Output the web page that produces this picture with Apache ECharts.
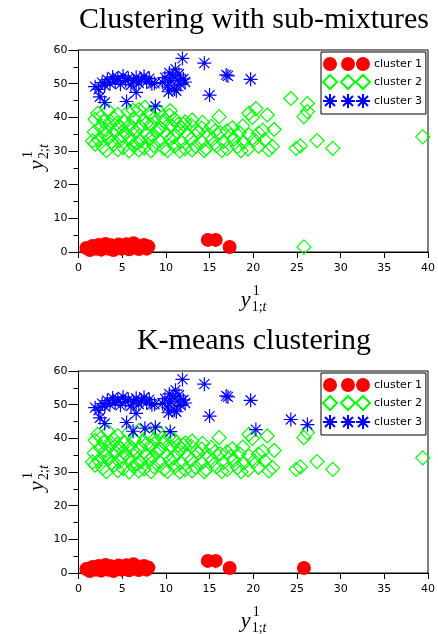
<!DOCTYPE html>
<html>
<head>
<meta charset="utf-8">
<script src="https://cdn.jsdelivr.net/npm/echarts@6/dist/echarts.min.js"></script>
<style>
  html, body { margin: 0; padding: 0; background: #fff; }
  #main { width: 438px; height: 634px; }
</style>
</head>
<body>
<div id="main"></div>
<script>
// tick labels
const xTicks = [0, 5, 10, 15, 20, 25, 30, 35, 40];
const yTicks = [0, 10, 20, 30, 40, 50, 60];
const seriesNames = ["cluster 1", "cluster 2", "cluster 3"];
const titles = ["Clustering with sub-mixtures", "K-means clustering"];

// red circles, same in both plots
const c1 = [[0.9,1.2],[1.3,0.6],[1.6,1.8],[2.0,1.0],[2.3,2.1],[2.6,0.7],[2.9,1.6],[3.1,2.4],[3.4,1.0],[3.7,2.0],
  [4.0,0.6],[4.3,1.5],[4.6,2.2],[4.9,1.0],[5.2,1.8],[5.5,2.3],[5.8,0.8],[6.1,1.5],[6.3,2.6],[6.6,1.9],
  [6.9,0.9],[7.2,1.6],[7.5,2.1],[7.8,1.0],[8.0,1.6],[14.8,3.6],[15.7,3.6],[17.3,1.5]];

// green diamonds, same in both plots
const c2 = [[2.2,41.2],[3.4,42.0],[4.5,40.8],[5.7,41.6],[6.9,42.3],[8.1,41.0],[9.2,41.8],[10.4,40.6],[16.1,40.2],[19.5,41.2],[19.9,40.0],[21.6,40.7],
  [1.9,39.4],[2.9,38.8],[4.0,39.9],[5.2,38.9],[6.3,39.6],[7.5,39.0],[8.7,39.8],[9.8,38.7],[11.0,39.5],[12.2,38.6],[13.0,39.2],
  [2.5,37.2],[3.6,37.9],[4.8,36.9],[5.9,37.7],[7.1,37.1],[8.3,37.8],[9.4,36.8],[10.6,37.5],[11.8,36.9],[12.9,37.6],[14.1,36.8],[15.2,37.3],[17.6,36.9],[18.8,37.4],
  [1.8,35.6],[3.0,35.0],[4.2,35.9],[5.4,35.2],[6.5,35.8],[7.7,35.1],[8.9,35.7],[10.1,35.0],[11.3,35.6],[12.5,34.9],[13.7,35.5],[14.9,34.8],[16.2,35.4],[17.4,34.6],[18.4,35.5],[19.5,34.8],[21.1,36.2],[22.4,36.4],[20.6,35.3],
  [2.3,33.4],[3.5,34.0],[4.7,33.1],[5.9,33.8],[7.1,33.0],[8.2,33.7],[9.3,32.9],[10.5,33.6],[11.7,32.8],[12.9,33.5],[14.1,32.7],[15.3,33.4],[16.6,32.8],[17.8,33.5],[18.9,32.6],[20.1,33.3],[21.3,33.3],
  [1.9,32.0],[2.8,31.2],[4.0,31.9],[5.1,31.0],[6.3,31.7],[7.5,30.9],[8.6,31.6],[9.8,30.8],[11.0,31.5],[12.2,30.7],[13.4,31.4],[14.6,30.8],[15.8,31.5],[17.0,30.7],[18.2,31.3],[19.4,30.6],[20.6,31.4],[22.2,31.3],[21.8,30.3],
  [3.2,30.1],[4.5,30.4],[5.8,30.0],[6.9,30.3],[8.3,30.1],[10.2,30.2],[11.6,30.0],[13.0,30.3],[14.4,30.1],[16.4,30.2],[18.6,30.1],
  [2.6,40.2],[3.1,36.3],[4.4,38.2],[5.0,34.6],[6.2,36.5],[7.8,38.3],[6.7,32.4],[8.5,34.5],[9.6,40.1],[10.9,34.2],[12.0,38.0],[13.5,36.2],[15.6,35.9],[1.6,33.0],[3.8,32.6],[9.1,36.4],[11.4,37.9],[14.2,38.5],[17.0,36.0],
  [25.8,40.2],[26.2,41.7],[24.9,30.8],[25.4,31.5],[27.3,33.1],[29.1,30.8],[39.4,34.2]];

// blue stars, same in both plots
const c3 = [[1.9,49.1],[2.3,48.3],[2.7,50.3],[3.0,49.5],[3.3,51.2],[3.6,50.0],[3.9,52.0],[4.2,50.7],[4.5,51.6],[4.8,49.8],
  [5.1,52.3],[5.4,50.9],[5.7,51.5],[6.0,49.6],[6.3,50.8],[6.6,51.9],[6.9,50.2],[7.2,51.2],[7.5,52.2],[7.8,50.6],
  [8.1,51.5],[8.4,50.0],[8.7,50.1],[9.6,50.4],[9.9,51.8],[10.2,49.3],[10.4,53.2],[10.6,50.8],[10.8,52.3],[11.0,48.4],
  [11.1,54.3],[11.3,51.0],[11.5,52.8],[11.7,49.8],[12.0,51.4],[10.3,47.6],[11.2,47.9],[12.2,50.5],
  [2.45,46.1],[3.0,44.4],[5.5,44.7],[6.6,47.4],[8.8,43.3],[11.9,57.5],[14.4,56.1],[15.0,46.6],[16.9,52.6],[17.1,52.3],[19.7,51.3]];

// points that are diamonds on top but stars in k-means
const swapStar = [[6.25,42.1],[7.6,43.0],[10.5,42.0],[20.3,42.6],[24.3,45.6],[26.2,44.1]];
// diamond on top, circle in k-means
const swapCircle = [[25.8,1.5]];

const top1 = [c1, c2.concat(swapStar, swapCircle), c3];
const top2 = [c1.concat(swapCircle), c2, c3.concat(swapStar)];

const tickFont = 'DejaVu Sans';
const starPath = 'path://M7,0L7,14M0,7L14,7M2,2L12,12M2,12L12,2';
const styles = [
  { symbol: 'circle', symbolSize: 14, itemStyle: { color: '#ff0000', opacity: 1 },
    icon: 'path://M0,7a7,7 0 1,0 14,0a7,7 0 1,0 -14,0M18,7a7,7 0 1,0 14,0a7,7 0 1,0 -14,0M33,7a7,7 0 1,0 14,0a7,7 0 1,0 -14,0' },
  { symbol: 'diamond', symbolSize: 14, itemStyle: { color: 'rgba(0,0,0,0)', borderColor: '#00ff00', borderWidth: 1.2, opacity: 1 },
    icon: 'path://M7,0L14,7L7,14L0,7ZM25,0L32,7L25,14L18,7ZM40,0L47,7L40,14L33,7Z' },
  { symbol: starPath, symbolSize: 14, itemStyle: { color: 'rgba(0,0,0,0)', borderColor: '#0000ff', borderWidth: 1.2, opacity: 1 },
    icon: 'path://M7,0L7,14M0,7L14,7M2,2L12,12M2,12L12,2M25,0L25,14M18,7L32,7M20,2L30,12M20,12L30,2M40,0L40,14M33,7L47,7M35,2L45,12M35,12L45,2' }
];

const gridTops = [50, 371];
const shift = gridTops[1] - gridTops[0];

function axisName(x, y, sub, vertical) {
  return {
    type: 'group', x: x, y: y, rotation: vertical ? Math.PI / 2 : 0,
    children: [
      { type: 'text', x: 0, y: -7.7, style: { text: 'y', font: 'italic 22px "Liberation Serif"', verticalAlign: 'middle', fill: '#000' } },
      { type: 'text', x: 12, y: -16.2, style: { text: '1', font: '14px "Liberation Serif"', verticalAlign: 'middle', fill: '#000' } },
      { type: 'text', x: 11, y: -0.2, style: {
          text: '{n|' + sub + '}{i|t}', verticalAlign: 'middle', fill: '#000',
          rich: {
            n: { fontFamily: 'Liberation Serif', fontSize: 14, fill: '#000' },
            i: { fontFamily: 'Liberation Serif', fontSize: 14, fontStyle: 'italic', fill: '#000' }
          }
        } }
    ]
  };
}

const grids = [], xAxes = [], yAxes = [], series = [], legends = [], titleList = [], graphics = [];
gridTops.forEach(function (t, g) {
  grids.push({ left: 78.5, top: t, width: 351, height: 202, show: true, borderColor: '#000', borderWidth: 1, backgroundColor: '#fff' });
  xAxes.push({
    gridIndex: g, type: 'value', min: xTicks[0], max: xTicks[xTicks.length - 1], interval: 5,
    axisLine: { onZero: false, lineStyle: { color: '#000', width: 1 } },
    axisTick: { inside: false, length: 6, lineStyle: { color: '#000' } },
    axisLabel: { margin: 11, fontFamily: tickFont, fontSize: 11, color: '#000' },
    splitLine: { show: false }
  });
  yAxes.push({
    gridIndex: g, type: 'value', min: yTicks[0], max: yTicks[yTicks.length - 1], interval: 10,
    axisLine: { onZero: false, lineStyle: { color: '#000', width: 1 } },
    axisTick: { inside: false, length: 10, lineStyle: { color: '#000' } },
    minorTick: { show: true, splitNumber: 2, length: 5, lineStyle: { color: '#000' } },
    axisLabel: { margin: 11, fontFamily: tickFont, fontSize: 11, color: '#000' },
    splitLine: { show: false }
  });
  const sets = g === 0 ? top1 : top2;
  seriesNames.forEach(function (name, k) {
    series.push({
      name: name, type: 'scatter', xAxisIndex: g, yAxisIndex: g,
      symbol: styles[k].symbol, symbolSize: styles[k].symbolSize,
      itemStyle: styles[k].itemStyle, data: sets[k],
      emphasis: { disabled: true }, z: 2 + k
    });
  });
  legends.push({
    left: 321, top: t + 2, orient: 'vertical',
    padding: [5, 4, 5, 1], itemGap: 3, itemWidth: 47, itemHeight: 14,
    borderColor: '#000', borderWidth: 1, backgroundColor: '#fff',
    textStyle: { fontFamily: tickFont, fontSize: 11, color: '#000', padding: [0, 0, 0, -1] },
    selectedMode: false,
    data: seriesNames.map(function (n, k) { return { name: n, icon: styles[k].icon }; })
  });
  titleList.push({
    text: titles[g], left: 254, textAlign: 'center', top: g === 0 ? 5 : 5 + shift, padding: 0,
    textStyle: { fontFamily: 'Liberation Serif', fontSize: 30, fontWeight: 'normal', color: '#000' }
  });
  graphics.push(axisName(240.7, 308 + g * shift, '1;', false));
  graphics.push(axisName(45, 170 + g * shift, '2;', true));
});

const chart = echarts.init(document.getElementById('main'), null, { renderer: 'canvas' });
chart.setOption({
  animation: false,
  backgroundColor: '#fff',
  title: titleList,
  grid: grids,
  xAxis: xAxes,
  yAxis: yAxes,
  legend: legends,
  graphic: graphics,
  series: series
});
</script>
</body>
</html>
